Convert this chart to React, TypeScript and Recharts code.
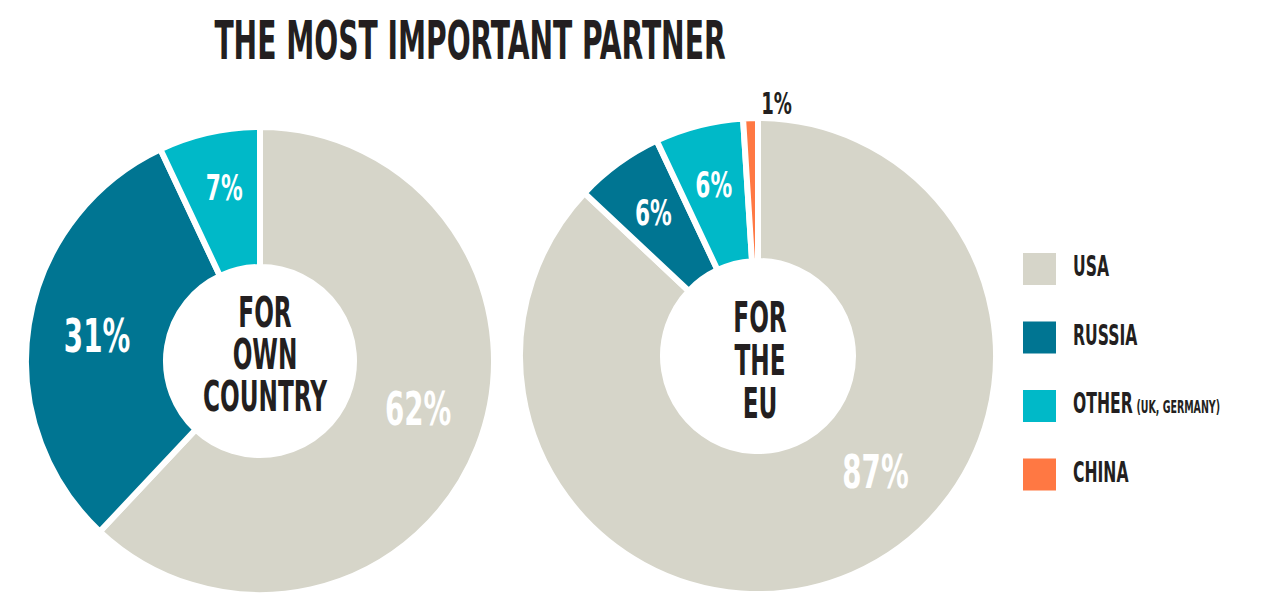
import { PieChart, Pie, Cell } from "recharts";

const categories = ["USA", "RUSSIA", "OTHER", "CHINA"];
const colors = ["#d6d5c9", "#007592", "#00b9c8", "#ff7843"];
const ownCountry = [62, 31, 7];
const forEu = [87, 6, 6, 1];
const centerOwn = ["FOR", "OWN", "COUNTRY"];
const centerEu = ["FOR", "THE", "EU"];

const FONT = "'Liberation Sans Narrow', 'DejaVu Sans Condensed', 'Liberation Sans', sans-serif";
const INK = "#231f20";
const RADIAN = Math.PI / 180;

const ownData = ownCountry.map((v, i) => ({ name: categories[i], value: v }));
const euData = forEu.map((v, i) => ({ name: categories[i], value: v }));

// squashed text so the condensed font looks like the tall display face
function Squash({ x, y, size, sx, fill, children }: any) {
  return (
    <text
      transform={`translate(${x},${y}) scale(${sx},1)`}
      textAnchor="middle"
      fontFamily={FONT}
      fontWeight="bold"
      fontSize={size}
      fill={fill}
    >
      {children}
    </text>
  );
}

function makeLabel(nudge: number[]) {
  return (props: any) => {
    const { cx, cy, midAngle, value, index } = props;
    const small = value < 2;
    const r = small ? 253 : value < 10 ? 178 : 165;
    const a = (midAngle + (nudge[index] ?? 0)) * RADIAN;
    const x = cx + r * Math.cos(-a);
    const yc = cy + r * Math.sin(-a);
    const size = small ? 30 : value < 10 ? 36 : 46;
    return (
      <Squash x={x} y={yc + size * 0.36} size={size} sx={0.67} fill={small ? INK : "#fff"}>
        {value}%
      </Squash>
    );
  };
}

export default function App() {
  return (
    <div style={{ position: "absolute", left: 0, top: 0, width: 1285, height: 613, background: "#fff" }}>
      <PieChart width={1285} height={613} margin={{ top: 0, right: 0, bottom: 0, left: 0 }}>
        <Pie
          data={ownData}
          dataKey="value"
          cx={260}
          cy={361}
          innerRadius={94}
          outerRadius={234}
          startAngle={90}
          endAngle={-270}
          stroke="#fff"
          strokeWidth={6}
          labelLine={false}
          label={makeLabel([5, 0, -1])}
          isAnimationActive={false}
        >
          {ownData.map((d, i) => (
            <Cell key={d.name} fill={colors[i]} />
          ))}
        </Pie>
        <Pie
          data={euData}
          dataKey="value"
          cx={758}
          cy={356}
          innerRadius={95}
          outerRadius={238}
          startAngle={90}
          endAngle={-270}
          stroke="#fff"
          strokeWidth={6}
          labelLine={false}
          label={makeLabel([22, 0, 0, -6])}
          isAnimationActive={false}
        >
          {euData.map((d, i) => (
            <Cell key={d.name} fill={colors[i]} />
          ))}
        </Pie>
      </PieChart>
      <svg
        width={1285}
        height={613}
        style={{ position: "absolute", left: 0, top: 0, pointerEvents: "none" }}
      >
        <Squash x={470} y={59} size={54} sx={0.58} fill={INK}>
          THE MOST IMPORTANT PARTNER
        </Squash>
        {centerOwn.map((t, i) => (
          <Squash key={t} x={265} y={327 + i * 42} size={43} sx={0.6} fill={INK}>
            {t}
          </Squash>
        ))}
        {centerEu.map((t, i) => (
          <Squash key={t} x={760} y={332 + i * 43} size={43} sx={0.6} fill={INK}>
            {t}
          </Squash>
        ))}
        {categories.map((c, i) => (
          <g key={c}>
            <rect x={1023} y={253 + i * 68.5} width={33} height={32} fill={colors[i]} />
            <text
              transform={`translate(1073,${276 + i * 68.5}) scale(0.62,1)`}
              fontFamily={FONT}
              fontWeight="bold"
              fontSize={28}
              fill={INK}
            >
              {c}
              {c === "OTHER" && (
                <tspan fontSize={17} dx={6}>
                  (UK, GERMANY)
                </tspan>
              )}
            </text>
          </g>
        ))}
      </svg>
    </div>
  );
}
